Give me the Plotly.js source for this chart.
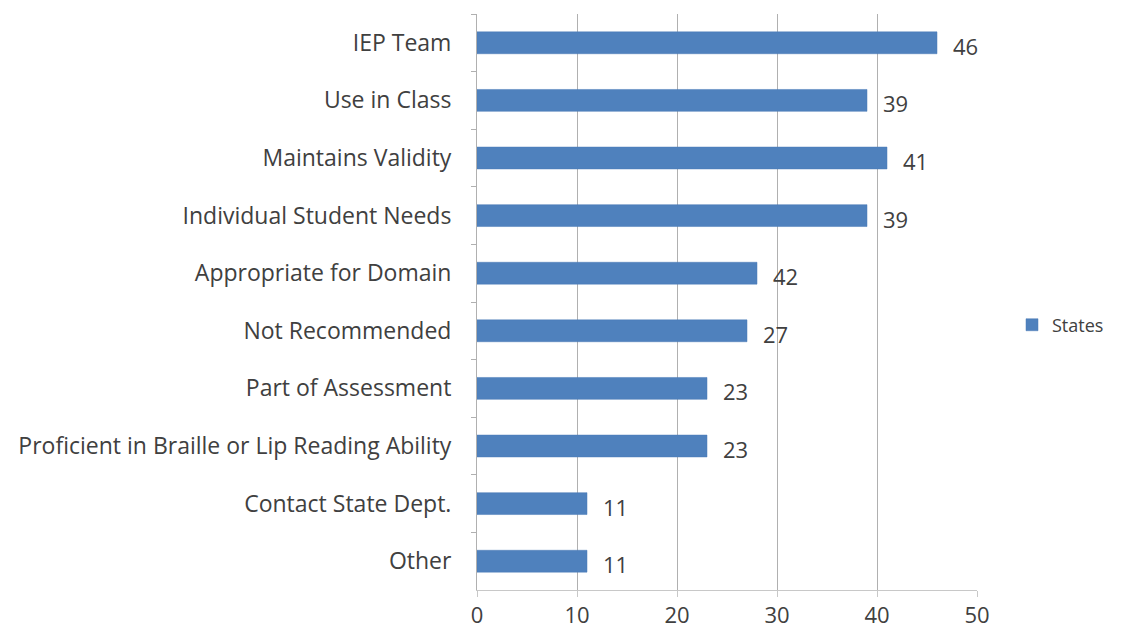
<!DOCTYPE html>
<html>
<head>
<meta charset="utf-8">
<script src="https://cdn.plot.ly/plotly-3.0.1.min.js"></script>
<style>html,body{margin:0;padding:0;background:#fff;}#chart{width:1122px;height:637px;}</style>
</head>
<body>
<div id="chart"></div>
<script>
const categories = ["IEP Team", "Use in Class", "Maintains Validity", "Individual Student Needs",
  "Appropriate for Domain", "Not Recommended", "Part of Assessment",
  "Proficient in Braille or Lip Reading Ability", "Contact State Dept.", "Other"];
const barValues = [46, 39, 41, 39, 28, 27, 23, 23, 11, 11];
const dataLabels = ["46", "39", "41", "39", "42", "27", "23", "23", "11", "11"];
const xTicks = [0, 10, 20, 30, 40, 50];
const seriesName = "States";

const fontFam = "'Open Sans', 'Liberation Sans', sans-serif";
const textColor = "#404040";

const trace = {
  type: "bar",
  orientation: "h",
  name: seriesName,
  x: barValues,
  y: categories,
  width: 0.38,
  marker: {color: "#4F81BD", line: {color: "#4a7bb7", width: 0.5}},
  hoverinfo: "x+y"
};

const annotations = categories.map((c, i) => ({
  x: barValues[i], y: c, xref: "x", yref: "y",
  text: dataLabels[i], showarrow: false,
  xanchor: "left", xshift: 14, yshift: -3,
  font: {family: fontFam, size: 22, color: textColor}
}));

const layout = {
  width: 1122, height: 637,
  margin: {l: 477, r: 145, t: 14, b: 47},
  paper_bgcolor: "#fff", plot_bgcolor: "#fff",
  font: {family: fontFam, size: 22, color: textColor},
  showlegend: true,
  legend: {x: 1.07, y: 0.46, xanchor: "left", yanchor: "middle",
           font: {family: fontFam, size: 18, color: textColor}, itemwidth: 30},
  xaxis: {
    range: [0, 50], tickvals: xTicks, ticktext: xTicks.map(String),
    showgrid: true, gridcolor: "#b0b0b0", gridwidth: 1,
    showline: true, linecolor: "#c8c8c8", linewidth: 1,
    ticks: "outside", ticklen: 6, tickcolor: "#c8c8c8",
    zeroline: false, fixedrange: true,
    tickfont: {family: fontFam, size: 22, color: textColor}
  },
  yaxis: {
    type: "category", autorange: "reversed",
    showline: true, linecolor: "#b0b0b0", linewidth: 1,
    ticks: "outside", tickson: "boundaries", ticklen: 5, tickcolor: "#b0b0b0",
    ticklabelstandoff: 20,
    showgrid: false, zeroline: false, fixedrange: true,
    tickfont: {family: fontFam, size: 23, color: textColor}
  },
  annotations: annotations
};

Plotly.newPlot("chart", [trace], layout, {displayModeBar: false, staticPlot: true});
</script>
</body>
</html>
